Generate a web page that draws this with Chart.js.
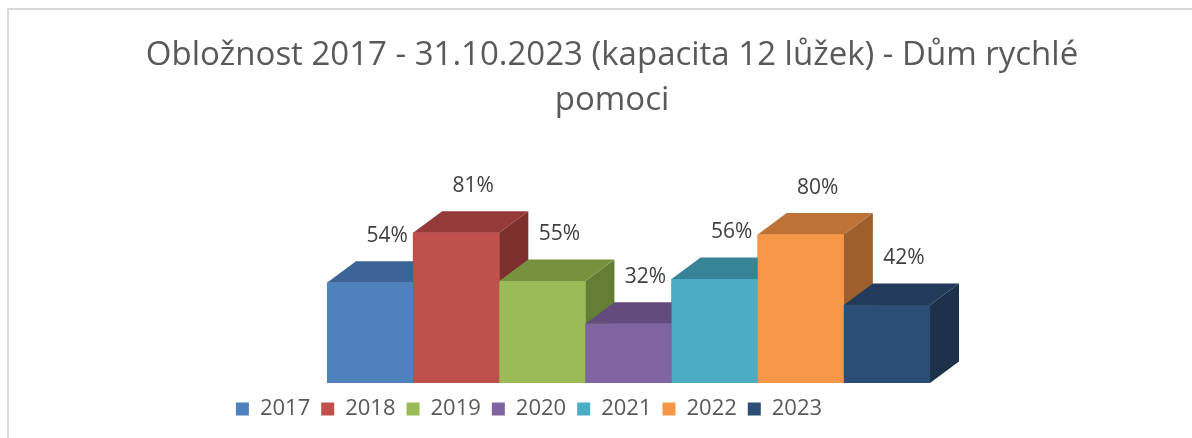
<!DOCTYPE html>
<html><head><meta charset="utf-8">
<script src="https://cdn.jsdelivr.net/npm/chart.js@4/dist/chart.umd.min.js"></script>
<style>
html,body{margin:0;padding:0;background:#fff;}
#wrap{position:relative;width:1192px;height:438px;overflow:hidden;}
#frame{position:absolute;left:7px;top:8px;width:1300px;height:500px;border-left:2px solid #d9d9d9;border-top:2px solid #d9d9d9;}
canvas{position:absolute;left:0;top:0;}
</style></head><body>
<div id="wrap"><div id="frame"></div><canvas id="c" width="1192" height="438"></canvas></div>
<script>
const categories = ['2017','2018','2019','2020','2021','2022','2023'];
const occupancy = [0.54, 0.81, 0.55, 0.32, 0.56, 0.80, 0.42];
const titleLines = ['Obložnost 2017 - 31.10.2023 (kapacita 12 lůžek) - Dům rychlé', 'pomoci'];
const frontColors = ['#4F81BD','#C0504D','#9BBB59','#8064A2','#4BACC6','#F79646','#2C4D75'];
const topColors   = ['#3C6494','#943A38','#77923F','#634C7D','#388497','#BE7235','#223B5A'];
const sideColors  = ['#335780','#7D2F2D','#657E35','#54416B','#2F6F80','#9F5F2C','#1E314A'];

const DX = 29, DY = -21.5;
const LEGEND_SHIFT = -83;
const FONT = "'Open Sans'";

const bar3d = {
  id: 'bar3d',
  afterDatasetsDraw(chart) {
    const ctx = chart.ctx;
    const meta = chart.getDatasetMeta(0);
    meta.data.forEach((bar, i) => {
      const {x, y, base, width} = bar.getProps(['x','y','base','width'], true);
      const l = x - width / 2, r = x + width / 2;
      ctx.save();
      ctx.fillStyle = sideColors[i];
      ctx.beginPath();
      ctx.moveTo(r, y); ctx.lineTo(r + DX, y + DY); ctx.lineTo(r + DX, base + DY); ctx.lineTo(r, base);
      ctx.closePath(); ctx.fill();
      ctx.fillStyle = topColors[i];
      ctx.beginPath();
      ctx.moveTo(l, y); ctx.lineTo(l + DX, y + DY); ctx.lineTo(r + DX, y + DY); ctx.lineTo(r, y);
      ctx.closePath(); ctx.fill();
      ctx.fillStyle = frontColors[i];
      ctx.fillRect(l, y, width, base - y);
      ctx.restore();
    });
    ctx.save();
    ctx.font = '21px ' + FONT;
    ctx.fillStyle = '#404040';
    ctx.textAlign = 'center';
    ctx.textBaseline = 'middle';
    meta.data.forEach((bar, i) => {
      const {x, y} = bar.getProps(['x','y'], true);
      ctx.fillText(Math.round(occupancy[i] * 100) + '%', x + 17, y - 47);
    });
    ctx.restore();
  }
};

const legendShift = {
  id: 'legendShift',
  afterLayout(chart) {
    chart.legend.left += LEGEND_SHIFT;
    chart.legend.right += LEGEND_SHIFT;
  }
};

Chart.defaults.font.family = FONT;

new Chart(document.getElementById('c'), {
  type: 'bar',
  data: {
    labels: categories,
    datasets: [{
      data: occupancy,
      backgroundColor: frontColors,
      borderWidth: 0,
      barPercentage: 1,
      categoryPercentage: 1
    }]
  },
  options: {
    responsive: false,
    animation: false,
    devicePixelRatio: 1,
    layout: { padding: { left: 32, right: 0, top: 0, bottom: 8 } },
    plugins: {
      tooltip: { enabled: false },
      title: {
        display: true,
        text: titleLines,
        color: '#595959',
        font: { size: 33, weight: 'normal', lineHeight: '45px' },
        padding: { top: 33, bottom: 74.5 }
      },
      legend: {
        position: 'bottom',
        labels: {
          boxWidth: 13,
          boxHeight: 13,
          padding: 11,
          color: '#595959',
          font: { size: 22 },
          generateLabels: (chart) => chart.data.labels.map((t, i) => ({
            text: t, fillStyle: frontColors[i], strokeStyle: frontColors[i],
            lineWidth: 0, hidden: false, index: i, fontColor: '#595959'
          }))
        }
      }
    },
    scales: {
      x: {
        display: true,
        ticks: { display: false }, grid: { display: false }, border: { display: false },
        afterFit(s) { s.height = 4; }
      },
      y: {
        min: 0, max: 1,
        ticks: { display: false }, grid: { display: false }, border: { display: false },
        afterFit(s) { s.width = 295; }
      },
      y2: {
        type: 'linear', position: 'right',
        ticks: { display: false }, grid: { display: false }, border: { display: false },
        afterFit(s) { s.width = 262; }
      }
    }
  },
  plugins: [bar3d, legendShift]
});
</script>
</body></html>
